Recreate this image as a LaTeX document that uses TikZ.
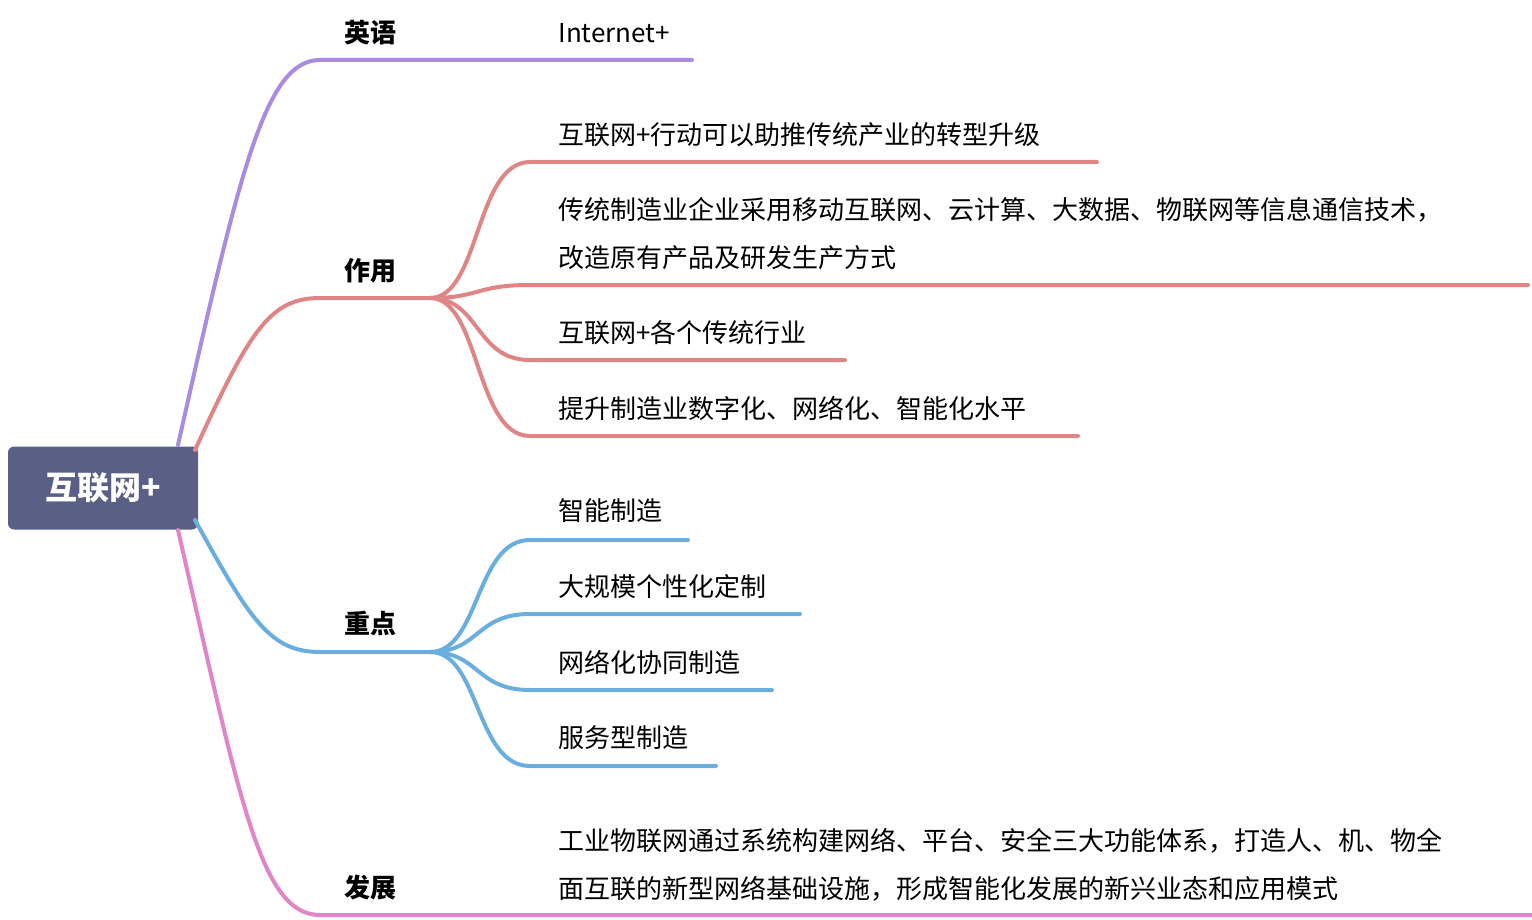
\documentclass[tikz,border=0pt]{standalone}
\usepackage{fontspec}
\setmainfont{Noto Sans CJK SC}
\definecolor{cpur}{HTML}{A98BE0}
\definecolor{cred}{HTML}{E08585}
\definecolor{cblu}{HTML}{6AAEE0}
\definecolor{cpnk}{HTML}{E086C8}
\definecolor{croot}{HTML}{5A6085}
\begin{document}
\begin{tikzpicture}[x=0.5pt,y=-0.5pt,
  br/.style={line width=2pt,line cap=round},
  lbl/.style={font=\fontsize{13}{15}\selectfont\bfseries,anchor=center,inner sep=0},
  leaf/.style={font=\fontsize{13}{24}\selectfont,anchor=west,inner sep=0,align=left}]
\useasboundingbox (0,0) rectangle (1532,920);
\node[fill=croot,rounded corners=3pt,minimum width=95pt,minimum height=41.5pt,text=white,font=\fontsize{16}{18}\selectfont\bfseries] (root) at (103,488) {互联网+};
% purple
\coordinate (p0) at (178,445); \coordinate (p1) at (320,60); \coordinate (p2) at (412,60);
\draw[br,cpur] (p0) .. controls (240,170) and (265,60) .. (p1) -- (p2) -- (692,60);
\node[lbl] (en) at (370,33) {英语};
\node[leaf] (en1) at (558,33) {Internet+};
% red
\coordinate (r0) at (195,450); \coordinate (r1) at (320,298); \coordinate (r2) at (430,298);
\draw[br,cred] (r0) .. controls (250,330) and (270,298) .. (r1) -- (r2);
\node[lbl] (zy) at (370,271) {作用};
\foreach \y/\e in {162/1097,285/1528,360/845,436/1078}
  \draw[br,cred] (r2) .. controls (480,298) and (475,\y) .. (530,\y) -- (\e,\y);
\node[leaf] (z1) at (558,135) {互联网+行动可以助推传统产业的转型升级};
\node[leaf] (z2) at (558,234) {传统制造业企业采用移动互联网、云计算、大数据、物联网等信息通信技术，\\改造原有产品及研发生产方式};
\node[leaf] (z3) at (558,333) {互联网+各个传统行业};
\node[leaf] (z4) at (558,408) {提升制造业数字化、网络化、智能化水平};
% blue
\coordinate (b0) at (195,520); \coordinate (b1) at (320,652); \coordinate (b2) at (430,652);
\draw[br,cblu] (b0) .. controls (250,620) and (270,652) .. (b1) -- (b2);
\node[lbl] (zd) at (370,624) {重点};
\foreach \y/\e in {540/688,614/800,690/772,766/716}
  \draw[br,cblu] (b2) .. controls (480,652) and (475,\y) .. (530,\y) -- (\e,\y);
\node[leaf] (d1) at (558,511) {智能制造};
\node[leaf] (d2) at (558,587) {大规模个性化定制};
\node[leaf] (d3) at (558,662) {网络化协同制造};
\node[leaf] (d4) at (558,738) {服务型制造};
% pink
\coordinate (k0) at (178,530); \coordinate (k1) at (320,915);
\draw[br,cpnk] (k0) .. controls (240,800) and (260,915) .. (k1) -- (1532,915);
\node[lbl] (fz) at (370,888) {发展};
\node[leaf] (f1) at (558,865) {工业物联网通过系统构建网络、平台、安全三大功能体系，打造人、机、物全\\面互联的新型网络基础设施，形成智能化发展的新兴业态和应用模式};
\end{tikzpicture}
\end{document}
